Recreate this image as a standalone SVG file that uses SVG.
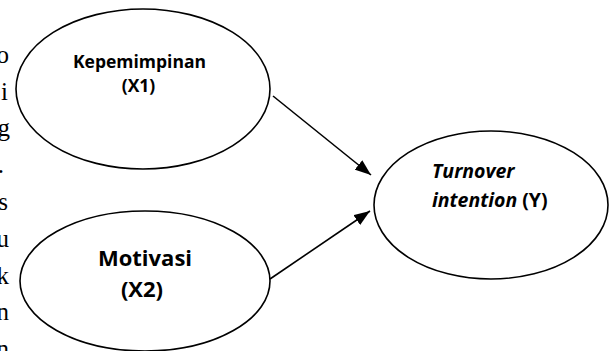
<svg xmlns="http://www.w3.org/2000/svg" width="611" height="351" viewBox="0 0 611 351">
<style>
.node ellipse{fill:#fff;stroke:#000;stroke-width:1.6}
.lbl{font-family:"Open Sans","Noto Sans",sans-serif;font-weight:bold;fill:#000;text-anchor:middle}
.edge{stroke:#000;stroke-width:1.6;fill:none}
.side{font-family:"Liberation Serif",serif;font-size:25px;fill:#000;text-anchor:end}
</style>
<defs>
<marker id="ah" viewBox="0 0 10 10" refX="10" refY="5" markerWidth="16" markerHeight="12" markerUnits="userSpaceOnUse" orient="auto" preserveAspectRatio="none">
<path d="M0,0 L10,5 L0,10 Z" fill="#000"/>
</marker>
</defs>
<rect width="611" height="351" fill="#fff"/>
<g id="sidetext" class="side">
<text x="9" y="63">o</text>
<text x="8" y="100">i</text>
<text x="10" y="136">g</text>
<text x="4" y="173">.</text>
<text x="8" y="210">s</text>
<text x="9" y="247">u</text>
<text x="9" y="284">k</text>
<text x="9" y="320">n</text>
<text x="9" y="357">n</text>
</g>
<g id="node-x1" class="node">
<ellipse cx="143" cy="89" rx="127" ry="80"/>
<text class="lbl" x="139.5" y="68" font-size="17.5">Kepemimpinan</text>
<text class="lbl" x="138.5" y="92" font-size="17.5">(X1)</text>
</g>
<g id="node-x2" class="node">
<ellipse cx="145" cy="281" rx="125" ry="70"/>
<text class="lbl" x="145" y="266" font-size="22">Motivasi</text>
<text class="lbl" x="142" y="297" font-size="22">(X2)</text>
</g>
<g id="node-y" class="node">
<ellipse cx="491" cy="205" rx="117" ry="74"/>
<text x="432" y="178" font-size="19.5" class="lbl" style="text-anchor:start"><tspan font-style="italic">Turnover</tspan></text>
<text x="432" y="207" font-size="19.5" class="lbl" style="text-anchor:start"><tspan font-style="italic">intention</tspan> (Y)</text>
</g>
<g id="connectors">
<line class="edge" x1="273" y1="96" x2="371" y2="175" marker-end="url(#ah)"/>
<line class="edge" x1="270" y1="279" x2="370" y2="211" marker-end="url(#ah)"/>
</g>
</svg>
